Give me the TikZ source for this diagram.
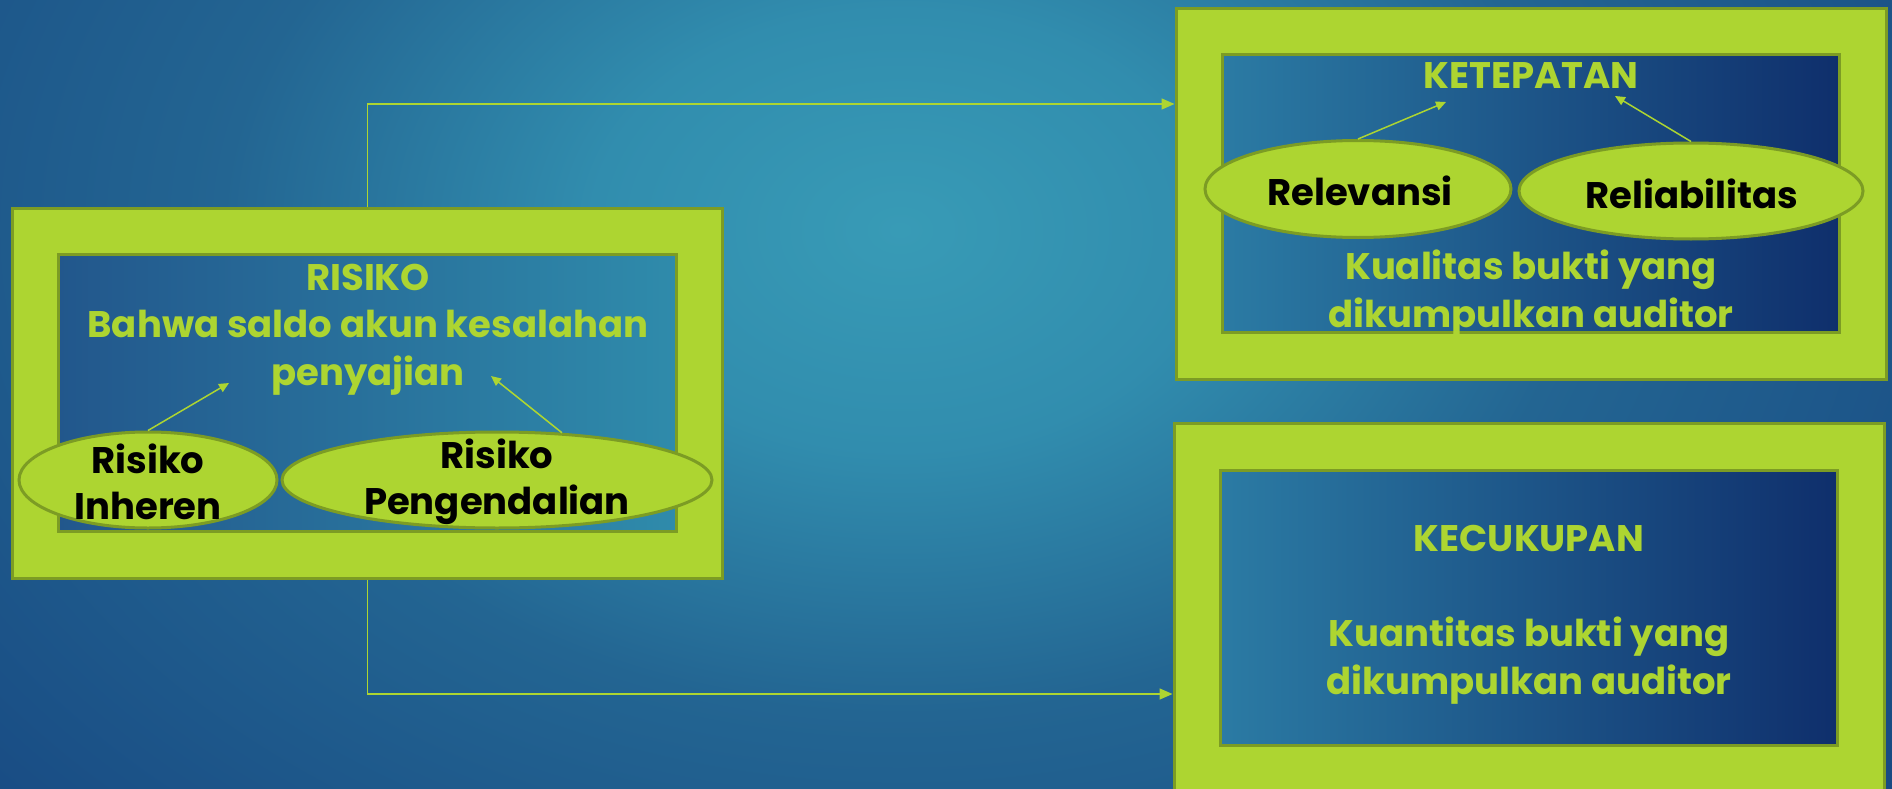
\documentclass[tikz,border=0pt]{standalone}
\usepackage{fontspec}
\setmainfont{Poppins}
\usetikzlibrary{arrows.meta,shapes.geometric}
\definecolor{lime}{HTML}{ADD531}
\definecolor{olivec}{HTML}{7C9C24}
\definecolor{bgmid}{HTML}{389BB6}
\definecolor{bgb}{HTML}{318DAE}
\definecolor{bgc}{HTML}{236592}
\definecolor{bgd}{HTML}{164580}
\definecolor{bge}{HTML}{113873}
\definecolor{inA}{HTML}{22578C}
\definecolor{inB}{HTML}{2F8BAB}
\definecolor{inC}{HTML}{2B7BA4}
\definecolor{inD}{HTML}{0F2F6C}
\pgfdeclareradialshading{bgshade}{\pgfpoint{0bp}{0bp}}{color(0bp)=(bgmid); color(5bp)=(bgb); color(11bp)=(bgc); color(22bp)=(bgd); color(25bp)=(bge); color(50bp)=(bge)}
\tikzset{
  frame/.style={rectangle, fill=lime, draw=olivec, line width=3pt, inner sep=0pt, minimum width=710pt, minimum height=370pt},
  panel/.style={rectangle, draw=olivec, line width=3pt, inner sep=0pt},
  gtext/.style={text=lime, font=\bfseries\fontsize{37}{47.5}\selectfont, align=center, inner sep=0pt},
  ell/.style={ellipse, fill=lime, draw=olivec, line width=3pt, inner sep=0pt},
  btext/.style={text=black, font=\bfseries\fontsize{37}{46}\selectfont, align=center, inner sep=0pt},
  conn/.style={draw=lime, line width=1.5pt, -{Triangle[length=13pt,width=11pt]}},
  sarrow/.style={draw=lime, line width=1.5pt, -{Triangle[length=10pt,width=9pt]}}
}
\begin{document}
\begin{tikzpicture}[x=1pt,y=-1pt]
\useasboundingbox (0,0) rectangle (1892,789);
\begin{scope}
\clip (0,0) rectangle (1892,789);
\shade[shading=bgshade] (900,230) ellipse (1540 and 1100);
\end{scope}

% left block
\node[frame] (L) at (367.5,393) {};
\node[panel, left color=inA, right color=inB, minimum width=618pt, minimum height=277pt] (Lin) at (367,392.5) {};
\node[gtext, anchor=base] (Lt) at (368,385) {RISIKO\\Bahwa saldo akun kesalahan\\penyajian};
\node[ell, minimum width=258pt, minimum height=96pt] (e1) at (148,480) {};
\node[btext] at (148,482) {Risiko\\Inheren};
\node[ell, minimum width=430pt, minimum height=96pt] (e2) at (497,480) {};
\node[btext] at (497,482) {Risiko\\Pengendalian};
\coordinate (t1) at (229,383);
\coordinate (t2) at (491,376);
\draw[sarrow] (e1.north) -- (t1);
\draw[sarrow] (e2.36) -- (t2);

% top right block
\node[frame] (R1) at (1531,194) {};
\node[panel, left color=inC, right color=inD, minimum width=617pt, minimum height=277pt] (R1in) at (1530.5,193.5) {};
\node[gtext, anchor=base] (Kt) at (1531,89) {KETEPATAN};
\node[gtext, anchor=base] (Kq) at (1531,327) {Kualitas bukti yang\\dikumpulkan auditor};
\node[ell, minimum width=306pt, minimum height=97pt] (e3) at (1358,189) {};
\node[btext] at (1360,191) {Relevansi};
\node[ell, minimum width=344pt, minimum height=96pt] (e4) at (1691,191) {};
\node[btext] at (1692,194) {Reliabilitas};
\coordinate (t3) at (1446,102);
\coordinate (t4) at (1615,96);
\draw[sarrow] (e3.north) -- (t3);
\draw[sarrow] (e4.north) -- (t4);

% bottom right block
\node[frame] (R2) at (1529,608) {};
\node[panel, left color=inC, right color=inD, minimum width=617pt, minimum height=275pt] (R2in) at (1528.5,607.5) {};
\node[gtext, anchor=base] (Ct) at (1529,694) {KECUKUPAN\\[47.5pt]Kuantitas bukti yang\\dikumpulkan auditor};

% connectors
\draw[conn] (L.north) |- ([yshift=90pt]R1.west);
\draw[conn] (L.south) |- ([yshift=-86pt]R2.west);
\end{tikzpicture}
\end{document}
